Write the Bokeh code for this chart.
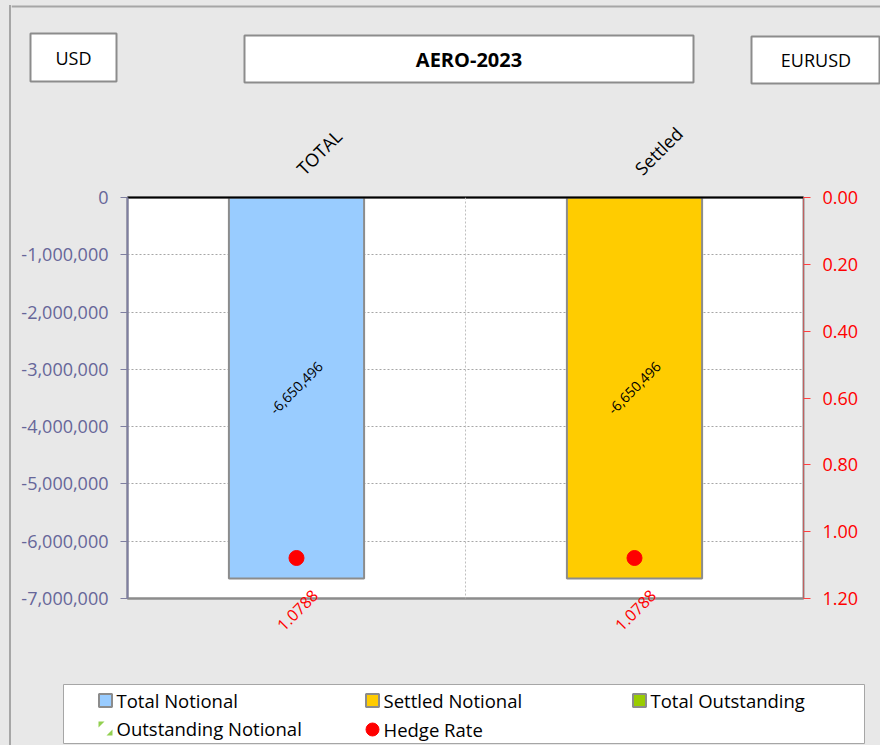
import math
from bokeh.plotting import figure
from bokeh.models import (Range1d, LinearAxis, NumeralTickFormatter,
                          FixedTicker, Span, ColumnDataSource, LabelSet, Spacer)
from bokeh.layouts import column, row
from bokeh.embed import file_html
from bokeh.resources import INLINE
from bokeh.core.properties import value

# ---------------- data ----------------
categories = ["TOTAL", "Settled"]
notional = [-6650496, -6650496]
hedge_rate = [1.0788, 1.0788]
bar_colors = ["#99CCFF", "#FFCC00"]
left_ticks = [0, -1000000, -2000000, -3000000, -4000000, -5000000, -6000000, -7000000]
right_ticks = [0.0, 0.2, 0.4, 0.6, 0.8, 1.0, 1.2]
header_texts = ["USD", "AERO-2023", "EURUSD"]
legend_names = ["Total Notional", "Settled Notional", "Total Outstanding",
                "Outstanding Notional", "Hedge Rate"]
legend_colors = ["#99CCFF", "#FFCC00", "#99CC00", "#92D050", "#FF0000"]

BG = "#E8E8E8"
FONT = "Open Sans"
X0 = 11          # left edge of the figures on the page
XR = 880         # right edge of the page
W = XR - X0
HB = 745         # bottom edge of the page
BORDER = "#A6A6A6"


def no_align(fig):
    try:
        fig.frame_align = False
    except Exception:
        pass


# ---------------- header ----------------
h = figure(width=W, height=100, x_range=Range1d(X0, XR), y_range=Range1d(100, 0),
           toolbar_location=None, output_backend="svg", min_border=0,
           x_axis_location=None, y_axis_location=None,
           background_fill_color=BG, border_fill_color=BG, outline_line_color=None)
no_align(h)
h.grid.visible = False
h.line(x=[X0, XR], y=[6, 6], line_color=BORDER, line_width=2)
h.quad(left=[30, 244, 751], right=[116, 693, 879], top=[33, 35, 36], bottom=[81, 82, 83],
       fill_color="white", line_color="#8C8C8C", line_width=2)
h.text(x=[73, 815.5], y=[57, 59.5], text=[header_texts[0], header_texts[2]],
       text_align="center", text_baseline="middle", text_font=value(FONT),
       text_font_size="18px", text_color="black")
h.text(x=[468.5], y=[58.5], text=[header_texts[1]], text_align="center", text_baseline="middle",
       text_font=value(FONT), text_font_size="20px", text_font_style="bold", text_color="black")

# ---------------- main chart ----------------
n = len(categories)
pos = [i + 0.5 for i in range(n)]          # category slots on the x scale
p = figure(width=W, height=560, x_range=Range1d(0, n), y_range=Range1d(-7000000, 0),
           toolbar_location=None, output_backend="svg", x_axis_location=None,
           min_border_left=127 - X0, min_border_right=XR - 803, min_border_top=97,
           min_border_bottom=62,
           background_fill_color="white", border_fill_color=BG,
           outline_line_color="#8C8C8C", outline_line_width=2)
no_align(p)
p.extra_y_ranges = {"rate": Range1d(1.2, 0)}
# companions of the category scale, nudged so that the rotated labels sit like the original
p.extra_x_ranges = {"top": Range1d(-0.01, n - 0.01), "hedge": Range1d(-0.055, n - 0.055)}

# top category axis
xa = LinearAxis(x_range_name="top", ticker=FixedTicker(ticks=pos),
                major_label_overrides={pp: c for pp, c in zip(pos, categories)})
xa.major_label_orientation = math.pi / 4
xa.major_label_text_font = FONT
xa.major_label_text_font_size = "18px"
xa.major_label_text_color = "black"
xa.major_tick_line_color = None
xa.minor_tick_line_color = None
xa.axis_line_color = "black"
xa.axis_line_width = 2
xa.major_label_standoff = 20
p.add_layout(xa, "above")

# bottom axis carrying the hedge-rate data labels
ba = LinearAxis(x_range_name="hedge", ticker=FixedTicker(ticks=pos),
                major_label_overrides={pp: f"{r:.4f}" for pp, r in zip(pos, hedge_rate)})
ba.major_label_orientation = math.pi / 4
ba.major_label_text_font = FONT
ba.major_label_text_font_size = "16px"
ba.major_label_text_color = "#FF0000"
ba.major_tick_line_color = None
ba.minor_tick_line_color = None
ba.axis_line_color = "#8C8C8C"
ba.axis_line_width = 2
ba.major_label_standoff = -12
p.add_layout(ba, "below")

# left axis
ya = p.yaxis[0]
ya.ticker = FixedTicker(ticks=left_ticks)
ya.formatter = NumeralTickFormatter(format="0,0")
ya.major_label_text_font = FONT
ya.major_label_text_font_size = "18px"
ya.major_label_text_color = "#666699"
ya.axis_line_color = "#7F7FA0"
ya.axis_line_width = 2
ya.major_tick_line_color = "#7F7FA0"
ya.major_tick_out = 7
ya.major_tick_in = 0
ya.minor_tick_line_color = None
ya.major_label_standoff = 12

# right axis
ra = LinearAxis(y_range_name="rate", ticker=FixedTicker(ticks=right_ticks),
                formatter=NumeralTickFormatter(format="0.00"))
ra.major_label_text_font = FONT
ra.major_label_text_font_size = "18px"
ra.major_label_text_color = "#FF0000"
ra.axis_line_color = "#C06060"
ra.axis_line_width = 1
ra.major_tick_line_color = "#FF4040"
ra.major_tick_out = 7
ra.major_tick_in = 0
ra.minor_tick_line_color = None
ra.major_label_standoff = 12
p.add_layout(ra, "right")

# grids
p.xgrid.visible = False
p.ygrid.ticker = FixedTicker(ticks=left_ticks)
p.ygrid.grid_line_color = "#A6A6A6"
p.ygrid.grid_line_dash = "2 2"
p.add_layout(Span(location=1, dimension="height", line_color="#BFBFBF", line_dash="2 2",
                  line_width=1))

src = ColumnDataSource(dict(
    x=pos,
    cat=categories,
    val=notional,
    mid=[v / 2 for v in notional],
    color=bar_colors,
    rate=hedge_rate,
    vlabel=[f"{v:,.0f}" for v in notional],
))

p.vbar(x="x", top=0, bottom="val", width=0.4, source=src, fill_color="color",
       line_color="#8C8C8C", line_width=2)
p.scatter(x="x", y="rate", y_range_name="rate", source=src, size=15,
          fill_color="#FF0000", line_color="#FF0000", marker="circle")

p.add_layout(LabelSet(x="x", y="mid", text="vlabel", source=src, angle=math.pi / 4,
                      text_align="center", text_baseline="middle", text_font=value(FONT),
                      text_font_size="14px", text_color="black"))

# ---------------- legend ----------------
lg = figure(width=W, height=HB - 660, x_range=Range1d(X0, XR), y_range=Range1d(HB, 660),
            toolbar_location=None, output_backend="svg", min_border=0,
            x_axis_location=None, y_axis_location=None,
            background_fill_color=BG, border_fill_color=BG, outline_line_color=None)
no_align(lg)
lg.grid.visible = False
lg.quad(left=[63], right=[864], top=[684], bottom=[743], fill_color="white",
        line_color=BORDER, line_width=1)
lx = [105, 372, 639, 105, 372]
ly = [700, 700, 700, 728, 729]
lg.scatter(x=lx[:3], y=ly[:3], marker="square", size=13, fill_color=legend_colors[:3],
           line_color="#8C8C8C", line_width=2)
# "Outstanding Notional" swatch: light green pattern corners
lg.patches(xs=[[98, 104, 98], [112, 106, 112]], ys=[[721, 721, 727], [735, 735, 729]],
           fill_color=legend_colors[3], line_color=None)
lg.scatter(x=[lx[4]], y=[ly[4]], marker="circle", size=13, fill_color=legend_colors[4],
           line_color=legend_colors[4])
lg.text(x=[v + 11 for v in lx], y=ly, text=legend_names, text_align="left",
        text_baseline="middle", text_font=value(FONT), text_font_size="18.5px",
        text_color="black")

# outer page frame (left border strip)
left_pad = Spacer(width=9, height=HB, styles={"background-color": BG})
border = column(Spacer(width=2, height=5, styles={"background-color": BG}),
                Spacer(width=2, height=HB - 5, styles={"background-color": BORDER}),
                spacing=0)
body = column(h, p, lg, spacing=0, styles={"background-color": BG})
page = row(left_pad, border, body, spacing=0, styles={"background-color": BG})
open("out.html", "w").write(file_html(page, INLINE))
